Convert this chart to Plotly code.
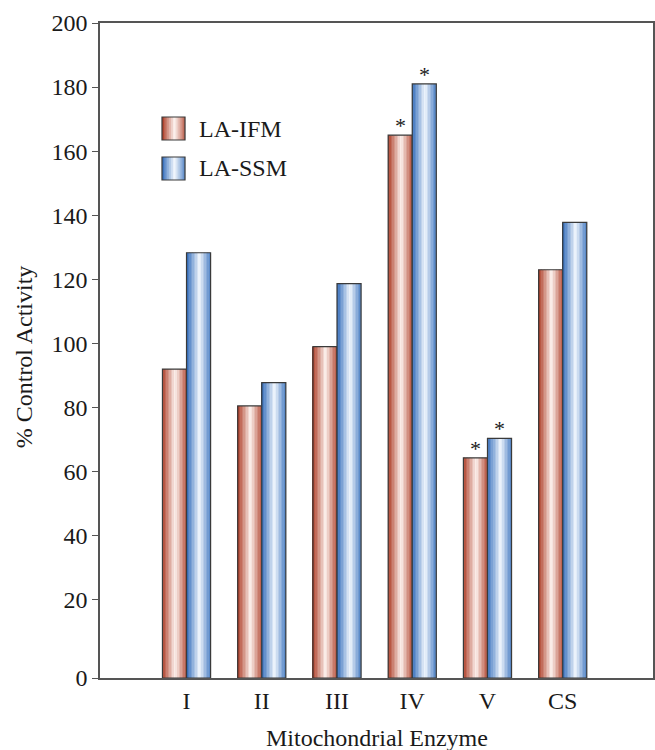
import plotly.graph_objects as go

# ---------------- data ----------------
categories = ["I", "II", "III", "IV", "V", "CS"]
ifm_values = [92.0, 80.5, 99.0, 165.0, 64.3, 123.0]
ssm_values = [128.3, 87.8, 118.7, 181.0, 70.4, 137.8]
ifm_sig = [False, False, False, True, True, False]
ssm_sig = [False, False, False, True, True, False]
y_tick_values = [0, 20, 40, 60, 80, 100, 120, 140, 160, 180, 200]
series_names = ["LA-IFM", "LA-SSM"]

# ---------------- style ----------------
Y_BOTTOM = -4.4          # axis baseline (labelled "0" in the original)
BAR_W = 0.32
N_SLICES = 16
FONT = "Liberation Serif, Times New Roman, serif"
TXT = "#1a1a1a"
AXC = "#555555"
red_edge = (170, 55, 32)
red_mid = (253, 242, 238)
blue_edge = (45, 105, 185)
blue_mid = (242, 247, 253)


def mix(c1, c2, a):
    return "rgb(%d,%d,%d)" % tuple(round(c1[i] + (c2[i] - c1[i]) * a) for i in range(3))


def light(t):
    # cylindrical shading: dark edges, highlight slightly right of centre
    d = abs(t - 0.55) / 0.55
    v = max(0.0, 1.0 - d)
    return v ** 1.0


fig = go.Figure()

series = [(ifm_values, red_edge, red_mid, -BAR_W),
          (ssm_values, blue_edge, blue_mid, 0.0)]

for vals, edge, mid, off0 in series:
    lengths = [v - Y_BOTTOM for v in vals]
    sw = BAR_W / N_SLICES
    for j in range(N_SLICES):
        t = (j + 0.5) / N_SLICES
        fig.add_trace(go.Bar(
            x=categories, y=lengths, base=Y_BOTTOM,
            width=sw * 1.05, offset=off0 + j * sw,
            marker=dict(color=mix(edge, mid, light(t)), line=dict(width=0)),
            showlegend=False, hoverinfo="skip"))
    fig.add_trace(go.Bar(
        x=categories, y=lengths, base=Y_BOTTOM,
        width=BAR_W, offset=off0,
        marker=dict(color="rgba(0,0,0,0)", line=dict(color="#3a3a3a", width=1.2)),
        showlegend=False, hoverinfo="skip"))

# significance asterisks
annotations = []
for vals, sig, shift in [(ifm_values, ifm_sig, -12), (ssm_values, ssm_sig, 12)]:
    for c, v, s in zip(categories, vals, sig):
        if s:
            annotations.append(dict(x=c, y=v, xref="x", yref="y", text="*",
                                    showarrow=False, xshift=shift, yanchor="bottom",
                                    yshift=-5, font=dict(family=FONT, size=22, color=TXT)))

# axis titles
annotations.append(dict(x=0.5, y=-0.092, xref="paper", yref="paper", text="Mitochondrial Enzyme",
                        showarrow=False, xanchor="center", yanchor="middle",
                        font=dict(family=FONT, size=24, color=TXT)))
annotations.append(dict(x=-0.137, y=0.49, xref="paper", yref="paper", text="% Control Activity",
                        showarrow=False, xanchor="center", yanchor="middle", textangle=-90,
                        font=dict(family=FONT, size=24, color=TXT)))

# manual legend with shaded swatches
shapes = []
PLOT_W = 553.0
PLOT_H = 655.0
legend_items = [(series_names[0], red_edge, red_mid, 117), (series_names[1], blue_edge, blue_mid, 157)]
for name, edge, mid, top_px in legend_items:
    x0, x1 = 62.0, 85.0
    ytop = 1 - (top_px - 23) / PLOT_H
    ybot = 1 - (top_px + 23 - 23) / PLOT_H
    n = 12
    for j in range(n):
        t = (j + 0.5) / n
        shapes.append(dict(type="rect", xref="paper", yref="paper",
                           x0=(x0 + (x1 - x0) * j / n) / PLOT_W,
                           x1=(x0 + (x1 - x0) * (j + 1.05) / n) / PLOT_W,
                           y0=ybot, y1=ytop, line=dict(width=0),
                           fillcolor=mix(edge, mid, light(t))))
    shapes.append(dict(type="rect", xref="paper", yref="paper",
                       x0=x0 / PLOT_W, x1=x1 / PLOT_W, y0=ybot, y1=ytop,
                       line=dict(color="#3a3a3a", width=1.2), fillcolor="rgba(0,0,0,0)"))
    annotations.append(dict(x=97.0 / PLOT_W, y=(ytop + ybot) / 2, xref="paper", yref="paper",
                            text=name, showarrow=False, xanchor="left", yanchor="middle",
                            font=dict(family=FONT, size=24, color=TXT)))

fig.update_layout(
    template="none",
    width=655, height=750,
    margin=dict(l=100, r=2, t=23, b=72, pad=0),
    paper_bgcolor="white", plot_bgcolor="white",
    barmode="overlay",
    showlegend=False,
    font=dict(family=FONT, size=24, color=TXT),
    annotations=annotations,
    shapes=shapes,
    xaxis=dict(range=[-1.15, 6.2], showgrid=False, zeroline=False,
               showline=True, linecolor=AXC, linewidth=1.6, mirror=True,
               ticks="", tickfont=dict(family=FONT, size=24, color=TXT),
               automargin=False),
    yaxis=dict(range=[Y_BOTTOM, 200], showgrid=False, zeroline=False,
               showline=True, linecolor=AXC, linewidth=1.6, mirror=True,
               ticks="outside", ticklen=6, tickwidth=1.4, tickcolor=AXC,
               tickvals=[Y_BOTTOM if t == 0 else t for t in y_tick_values],
               ticktext=[str(t) for t in y_tick_values],
               tickfont=dict(family=FONT, size=24, color=TXT),
               automargin=False),
)

fig.write_html("out.html", config={"displayModeBar": False})

# remove the default page margin so the figure fills the window exactly
with open("out.html", "r", encoding="utf-8") as f:
    html = f.read()
html = html.replace("<body>", '<body style="margin:0;padding:0;">', 1)
html = html.replace("<head>", "<head><style>html,body{margin:0;padding:0;overflow:hidden;}</style>", 1)
with open("out.html", "w", encoding="utf-8") as f:
    f.write(html)
